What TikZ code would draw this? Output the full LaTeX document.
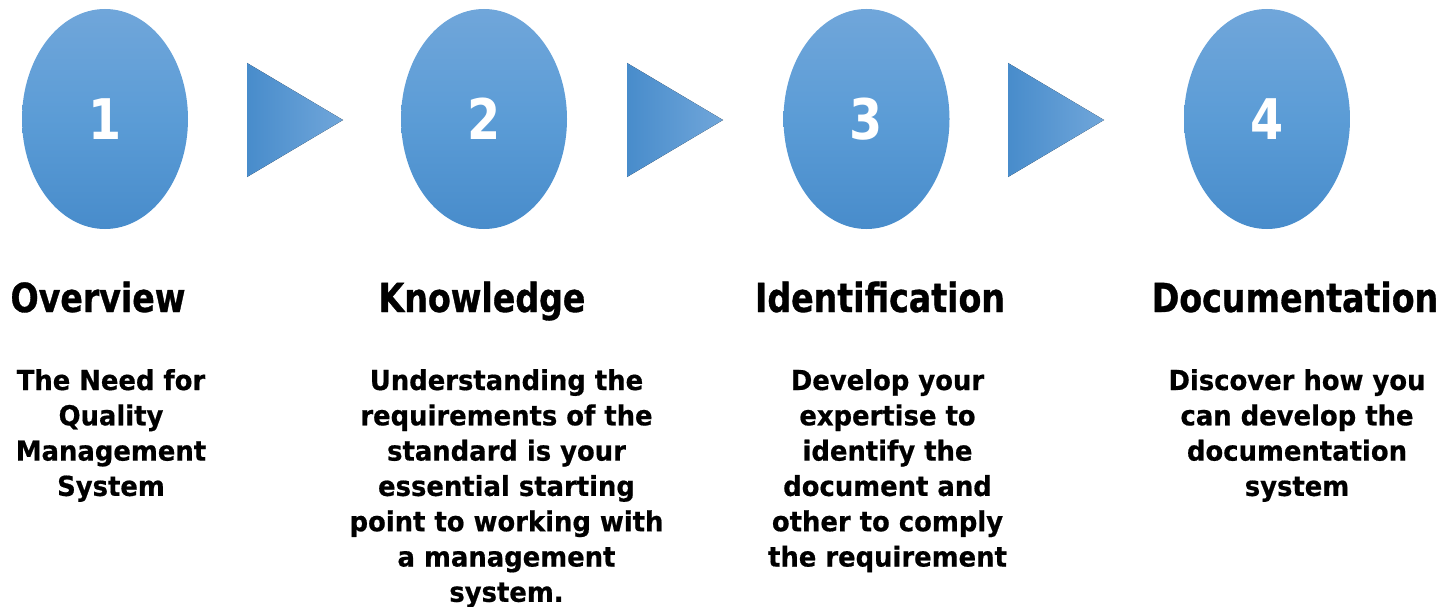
\documentclass[tikz,border=0pt]{standalone}
\usepackage{fontspec}
\usetikzlibrary{shapes.geometric}
\newfontfamily\headfont[FakeStretch=0.83,FakeBold=0.8]{DejaVu Sans Bold}
\newfontfamily\bodyfont[FakeStretch=0.94,FakeBold=0.6]{DejaVu Sans Bold}
\newfontfamily\numfont[FakeStretch=0.85]{DejaVu Sans Bold}
\definecolor{blueTop}{RGB}{112,166,218}
\definecolor{blueMid}{RGB}{91,156,214}
\definecolor{blueBot}{RGB}{72,140,203}
\tikzset{
  stepoval/.style={ellipse, draw=none, minimum width=166pt, minimum height=220pt, inner sep=0pt,
    top color=blueTop, bottom color=blueBot, middle color=blueMid,
    text=white, font=\numfont\fontsize{56}{60}\selectfont},
  arrowtri/.style={left color=blueBot, right color=blueTop, draw=none},
  headtext/.style={anchor=base, inner sep=0pt, font=\headfont\fontsize{40}{48}\selectfont},
  bodytext/.style={anchor=base, inner sep=0pt, align=center, font=\bodyfont\fontsize{27.5}{35.3}\selectfont}
}
\begin{document}
\begin{tikzpicture}[x=1pt,y=-1pt]
\useasboundingbox (0,0) rectangle (1447,607);
% ovals
\node[stepoval] (e1) at (105,119) {1};
\node[stepoval] (e2) at (484,119) {2};
\node[stepoval] (e3) at (866.5,119) {3};
\node[stepoval] (e4) at (1267,119) {4};
% triangles
\coordinate (t1a) at (247,63); \coordinate (t1b) at (343,120); \coordinate (t1c) at (247,177);
\coordinate (t2a) at (627,63); \coordinate (t2b) at (723,120); \coordinate (t2c) at (627,177);
\coordinate (t3a) at (1008,63); \coordinate (t3b) at (1104,120); \coordinate (t3c) at (1008,177);
\fill[arrowtri] (t1a) -- (t1b) -- (t1c) -- cycle;
\fill[arrowtri] (t2a) -- (t2b) -- (t2c) -- cycle;
\fill[arrowtri] (t3a) -- (t3b) -- (t3c) -- cycle;
% headings
\node[headtext] (h1) at (98,312) {Overview};
\node[headtext] (h2) at (482,312) {Knowledge};
\node[headtext] (h3) at (880,312) {Identification};
\node[headtext] (h4) at (1295,312) {Documentation};
% bodies (base anchor = baseline of last line)
\node[bodytext] (b1) at (111,495.9) {The Need for\\Quality\\Management\\System};
\node[bodytext] (b2) at (506.5,601.8) {Understanding the\\requirements of the\\standard is your\\essential starting\\point to working with\\a management\\system.};
\node[bodytext] (b3) at (887.5,566.5) {Develop your\\expertise to\\identify the\\document and\\other to comply\\the requirement};
\node[bodytext] (b4) at (1297,495.9) {Discover how you\\can develop the\\documentation\\system};
\end{tikzpicture}
\end{document}
